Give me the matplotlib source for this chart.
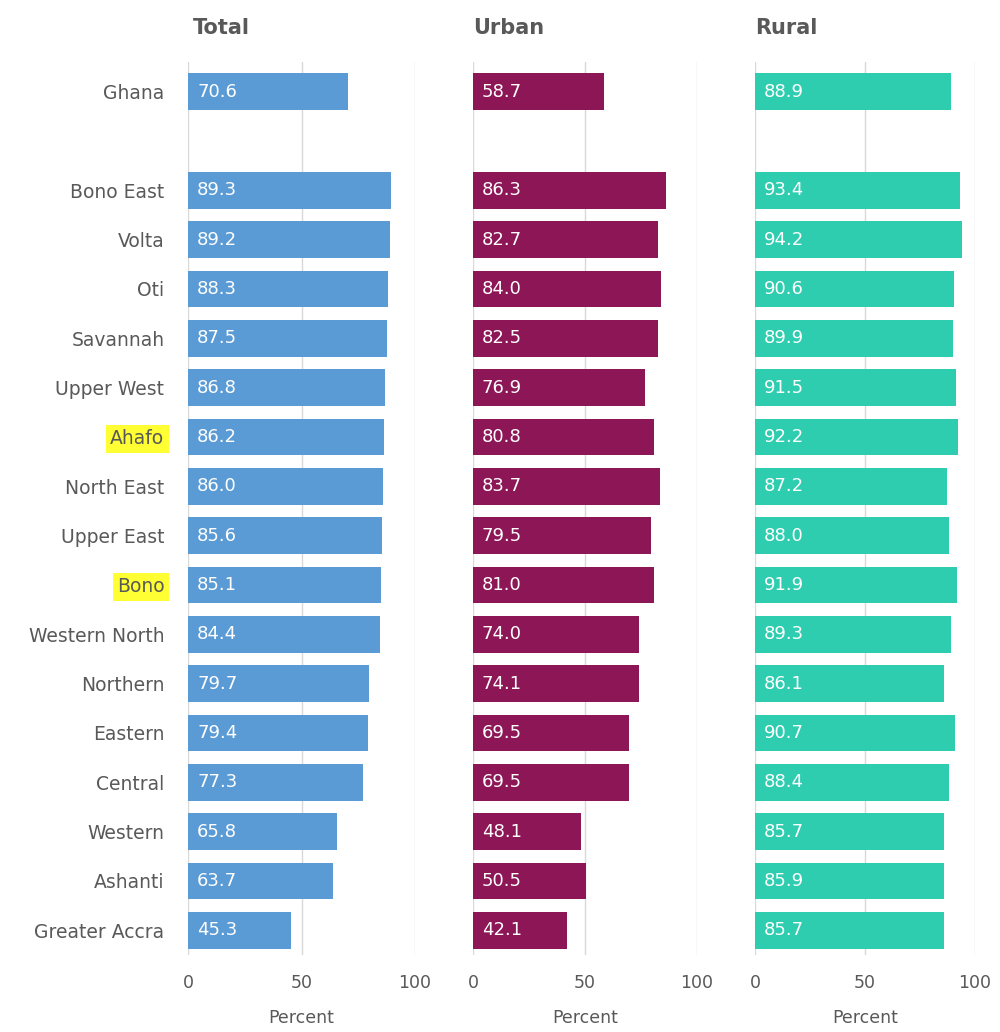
import numpy as np
import matplotlib.pyplot as plt

# ____________________________________________________________________________________________________
# Data

regions = ["Ghana", "Bono East", "Volta", "Oti", "Savannah", "Upper West", "Ahafo",
           "North East", "Upper East", "Bono", "Western North", "Northern", "Eastern",
           "Central", "Western", "Ashanti", "Greater Accra"]
total = [70.6, 89.3, 89.2, 88.3, 87.5, 86.8, 86.2, 86.0, 85.6, 85.1, 84.4, 79.7, 79.4,
         77.3, 65.8, 63.7, 45.3]
urban = [58.7, 86.3, 82.7, 84.0, 82.5, 76.9, 80.8, 83.7, 79.5, 81.0, 74.0, 74.1, 69.5,
         69.5, 48.1, 50.5, 42.1]
rural = [88.9, 93.4, 94.2, 90.6, 89.9, 91.5, 92.2, 87.2, 88.0, 91.9, 89.3, 86.1, 90.7,
         88.4, 85.7, 85.9, 85.7]
highlighted = ["Ahafo", "Bono"]

panels = [("Total", total, "#5B9BD5"),
          ("Urban", urban, "#8C1656"),
          ("Rural", rural, "#2ECDB0")]

# ____________________________________________________________________________________________________
# Layout

plt.rcParams['font.family'] = ['DejaVu Sans']
text_color = "#595959"

# Ghana on row 0, one empty row, then the regions
ypos = np.array([0] + list(range(2, len(regions) + 1)))

fig = plt.figure(figsize=(10, 10.32), dpi=100)
lefts = [0.188, 0.473, 0.755]
widths = [0.227, 0.224, 0.220]
bottom = 1 - 955 / 1032
height = (955 - 62) / 1032

for i, (title, values, color) in enumerate(panels):
    ax = fig.add_axes([lefts[i], bottom, widths[i], height])
    ax.barh(ypos, values, height=0.74, color=color, zorder=2)
    for y, v in zip(ypos, values):
        ax.text(4, y, f"{v:.1f}", color="white", fontsize=13, va="center",
                ha="left", zorder=3)
    ax.set_xlim(0, 100)
    ax.set_ylim(17.5, -0.6)
    ax.set_xticks([0, 50, 100])
    ax.xaxis.grid(True, color="#D9D9D9", linewidth=1, zorder=0)
    for s in ax.spines.values():
        s.set_visible(False)
    ax.tick_params(axis="x", length=0, labelsize=12.5, labelcolor=text_color, pad=14)
    ax.set_xlabel("Percent", fontsize=12.5, color=text_color, labelpad=12)
    ax.set_title(title, fontsize=15, color=text_color, loc="left",
                 x=0.02 if i == 0 else 0.0, pad=20, fontweight="semibold")
    if i == 0:
        ax.set_yticks(ypos)
        ax.set_yticklabels(regions)
        ax.tick_params(axis="y", length=0, labelsize=13.5, labelcolor=text_color, pad=17)
        for lab in ax.get_yticklabels():
            if lab.get_text() in highlighted:
                lab.set_bbox(dict(facecolor="#FFFF33", edgecolor="none", pad=3))
    else:
        ax.set_yticks([])

fig.savefig("out.png", dpi=100, facecolor="white")
